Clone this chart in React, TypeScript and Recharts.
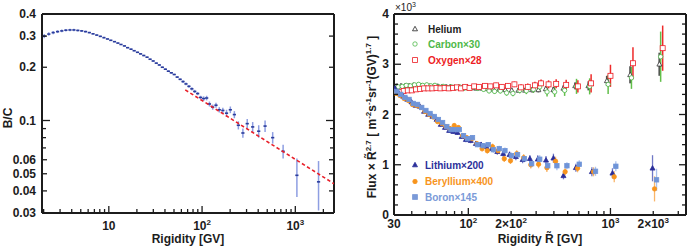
import React from 'react';
import { ScatterChart, Scatter, XAxis, YAxis, ErrorBar } from 'recharts';

// ---- left panel: B/C ratio vs rigidity
const bcRigidity = [
  2.03, 2.27, 2.53, 2.82, 3.13, 3.46, 3.83, 4.22, 4.65, 5.12,
  5.63, 6.18, 6.77, 7.42, 8.11, 8.86, 9.67, 10.5, 11.5, 12.5,
  13.5, 14.7, 15.9, 17.3, 18.7, 20.3, 21.9, 23.7, 25.7, 27.7,
  29.9, 32.3, 34.8, 37.5, 40.4, 43.5, 46.8, 50.3, 54.1, 58.2,
  62.5, 67.2, 72.3, 77.7, 83.4, 89.7, 96.4, 104, 112, 120,
  130, 141, 153, 167, 183, 201, 222, 245, 274, 305,
  349, 405, 474, 572, 740, 1040, 1775,
];
const bcRatio = [
  0.300, 0.308, 0.314, 0.318, 0.321, 0.324, 0.325, 0.325, 0.323, 0.321,
  0.318, 0.314, 0.309, 0.304, 0.299, 0.294, 0.289, 0.284, 0.279, 0.274,
  0.269, 0.264, 0.258, 0.253, 0.248, 0.243, 0.238, 0.233, 0.228, 0.222,
  0.217, 0.211, 0.206, 0.200, 0.195, 0.190, 0.186, 0.182, 0.176, 0.171,
  0.166, 0.161, 0.156, 0.151, 0.146, 0.142, 0.135, 0.133, 0.134, 0.124,
  0.119, 0.122, 0.115, 0.114, 0.110, 0.115, 0.108, 0.094, 0.085, 0.096,
  0.092, 0.087, 0.093, 0.080, 0.067, 0.049, 0.045,
];
const bcError = [
  0.008, 0.007, 0.007, 0.006, 0.006, 0.005, 0.005, 0.005, 0.004, 0.004,
  0.004, 0.003, 0.003, 0.003, 0.003, 0.003, 0.002, 0.002, 0.002, 0.002,
  0.002, 0.002, 0.002, 0.002, 0.002, 0.002, 0.002, 0.002, 0.002, 0.002,
  0.002, 0.002, 0.002, 0.002, 0.002, 0.002, 0.002, 0.002, 0.002, 0.002,
  0.003, 0.003, 0.003, 0.003, 0.003, 0.003, 0.003, 0.004, 0.004, 0.004,
  0.004, 0.004, 0.004, 0.004, 0.005, 0.005, 0.005, 0.005, 0.005, 0.006,
  0.006, 0.007, 0.007, 0.006, 0.006, 0.012, 0.014,
];
// power-law fit, straight on log-log axes
const fitRigidity = [66, 2600];
const fitRatio = [0.149, 0.0439];

const bcTicksX = [2, 3, 4, 5, 6, 7, 8, 9, 10, 20, 30, 40, 50, 60, 70, 80, 90, 100, 200, 300, 400, 500, 600, 700, 800, 900, 1000, 2000];
const bcTicksY = [0.03, 0.04, 0.05, 0.06, 0.07, 0.08, 0.09, 0.1, 0.2, 0.3, 0.4];
const bcLabelsY = [0.03, 0.04, 0.05, 0.06, 0.1, 0.2, 0.3, 0.4];

// ---- right panel: flux x R^2.7 (units of 10^3)
const heR = [31.5, 33.6, 35.9, 38.3, 41.0, 43.8, 46.8, 50.0, 53.4, 57.1, 61.0, 65.2, 69.7, 74.5, 79.6, 85.1, 91.0, 97.2, 105, 114, 125, 137, 150, 165, 182, 202, 225, 251, 281, 311, 351, 397, 467, 565, 700, 944, 1377, 2210];
const heFlux = [2.56, 2.57, 2.57, 2.57, 2.58, 2.57, 2.57, 2.56, 2.56, 2.56, 2.56, 2.55, 2.55, 2.55, 2.54, 2.54, 2.54, 2.53, 2.53, 2.52, 2.52, 2.51, 2.50, 2.50, 2.49, 2.48, 2.48, 2.48, 2.49, 2.49, 2.51, 2.49, 2.52, 2.57, 2.57, 2.67, 2.79, 3.00];
const heErr = [0.03, 0.03, 0.03, 0.03, 0.03, 0.03, 0.03, 0.03, 0.03, 0.03, 0.03, 0.03, 0.03, 0.03, 0.03, 0.03, 0.03, 0.03, 0.03, 0.03, 0.035, 0.035, 0.035, 0.04, 0.04, 0.04, 0.045, 0.045, 0.05, 0.05, 0.055, 0.06, 0.06, 0.07, 0.09, 0.1, 0.17, 0.23];

const cR = [32.1, 34.3, 36.6, 39.1, 41.8, 44.7, 47.7, 51.0, 54.5, 58.2, 62.2, 66.5, 71.1, 76.0, 81.2, 86.8, 92.8, 99.1, 107, 116, 128, 140, 153, 168, 186, 206, 230, 256, 287, 318, 358, 405, 476, 577, 714, 963, 1405, 2255];
const cFlux = [2.55, 2.56, 2.58, 2.57, 2.59, 2.60, 2.58, 2.59, 2.57, 2.58, 2.55, 2.56, 2.54, 2.55, 2.53, 2.55, 2.52, 2.53, 2.54, 2.52, 2.50, 2.47, 2.46, 2.47, 2.43, 2.42, 2.48, 2.47, 2.50, 2.55, 2.45, 2.45, 2.48, 2.56, 2.56, 2.60, 2.73, 3.15];
const cErr = [0.04, 0.04, 0.04, 0.04, 0.04, 0.04, 0.04, 0.04, 0.04, 0.04, 0.04, 0.04, 0.04, 0.04, 0.04, 0.04, 0.04, 0.04, 0.04, 0.04, 0.045, 0.045, 0.05, 0.05, 0.055, 0.055, 0.06, 0.065, 0.07, 0.08, 0.09, 0.1, 0.11, 0.15, 0.16, 0.19, 0.22, 0.5];

const oR = [32.9, 35.1, 37.5, 40.0, 42.8, 45.8, 48.9, 52.3, 55.8, 59.7, 63.7, 68.1, 72.8, 77.9, 83.2, 88.9, 95.1, 102, 110, 119, 131, 143, 157, 172, 190, 211, 235, 262, 294, 325, 367, 415, 488, 590, 731, 1000, 1440, 2330];
const oFlux = [2.45, 2.47, 2.48, 2.48, 2.50, 2.51, 2.52, 2.52, 2.52, 2.53, 2.52, 2.53, 2.52, 2.53, 2.54, 2.52, 2.55, 2.53, 2.56, 2.55, 2.57, 2.56, 2.58, 2.55, 2.57, 2.60, 2.54, 2.55, 2.58, 2.62, 2.60, 2.61, 2.59, 2.56, 2.62, 2.77, 3.02, 3.32];
const oErr = [0.035, 0.035, 0.035, 0.035, 0.035, 0.035, 0.035, 0.035, 0.035, 0.035, 0.035, 0.035, 0.035, 0.035, 0.035, 0.035, 0.04, 0.04, 0.04, 0.04, 0.045, 0.045, 0.05, 0.05, 0.05, 0.055, 0.06, 0.065, 0.07, 0.075, 0.08, 0.09, 0.1, 0.12, 0.18, 0.22, 0.32, 0.45];

const liR = [30.5, 32.5, 34.8, 37.2, 39.8, 42.6, 45.6, 48.8, 52.2, 55.9, 59.8, 64.0, 68.5, 73.3, 78.4, 83.9, 89.8, 96.1, 104, 113, 123, 134, 146, 160, 176, 195, 216, 241, 271, 308, 352, 397, 467, 571, 740, 1033, 1977];
const liFlux = [2.52, 2.42, 2.36, 2.30, 2.25, 2.18, 2.16, 2.06, 2.00, 1.96, 1.90, 1.80, 1.74, 1.68, 1.66, 1.64, 1.56, 1.50, 1.48, 1.42, 1.40, 1.36, 1.32, 1.26, 1.22, 1.20, 1.16, 1.10, 1.12, 1.11, 1.09, 1.13, 0.78, 0.94, 0.86, 0.83, 0.93];
const liErr = [0.045, 0.045, 0.045, 0.045, 0.045, 0.045, 0.045, 0.045, 0.045, 0.045, 0.045, 0.045, 0.045, 0.045, 0.045, 0.045, 0.05, 0.05, 0.05, 0.05, 0.055, 0.055, 0.06, 0.06, 0.065, 0.065, 0.07, 0.07, 0.075, 0.08, 0.085, 0.09, 0.07, 0.08, 0.09, 0.1, 0.26];

const beR = [31.0, 33.0, 35.3, 37.8, 40.4, 43.2, 46.3, 49.5, 53.0, 56.7, 60.7, 65.0, 69.5, 74.4, 79.6, 85.2, 91.1, 97.5, 106, 115, 125, 136, 148, 162, 179, 198, 219, 245, 275, 312, 357, 411, 480, 587, 760, 1063, 2042];
const beFlux = [2.42, 2.38, 2.32, 2.28, 2.20, 2.18, 2.14, 2.06, 2.00, 1.95, 1.86, 1.82, 1.76, 1.72, 1.78, 1.74, 1.58, 1.54, 1.52, 1.42, 1.32, 1.28, 1.36, 1.28, 1.12, 1.08, 1.22, 1.14, 1.00, 1.01, 0.94, 1.07, 0.86, 0.93, 0.86, 0.76, 0.52];
const beErr = [0.045, 0.045, 0.045, 0.045, 0.045, 0.045, 0.045, 0.045, 0.045, 0.045, 0.045, 0.045, 0.045, 0.045, 0.045, 0.045, 0.05, 0.05, 0.05, 0.05, 0.055, 0.055, 0.06, 0.06, 0.065, 0.065, 0.07, 0.07, 0.075, 0.08, 0.085, 0.09, 0.07, 0.08, 0.09, 0.11, 0.25];

const bR = [31.4, 33.5, 35.8, 38.3, 41.0, 43.9, 47.0, 50.3, 53.8, 57.6, 61.6, 65.9, 70.6, 75.5, 80.8, 86.4, 92.5, 99.0, 107, 116, 127, 138, 150, 165, 181, 201, 222, 248, 279, 318, 362, 420, 494, 603, 785, 1091, 2110];
const bFlux = [2.46, 2.40, 2.34, 2.30, 2.22, 2.20, 2.14, 2.08, 2.02, 1.96, 1.90, 1.84, 1.76, 1.70, 1.70, 1.70, 1.58, 1.52, 1.54, 1.40, 1.38, 1.40, 1.30, 1.32, 1.28, 1.18, 1.20, 1.12, 1.02, 1.11, 0.98, 0.98, 0.98, 1.01, 0.87, 0.97, 0.70];
const bErr = [0.045, 0.045, 0.045, 0.045, 0.045, 0.045, 0.045, 0.045, 0.045, 0.045, 0.045, 0.045, 0.045, 0.045, 0.045, 0.045, 0.05, 0.05, 0.05, 0.05, 0.055, 0.055, 0.06, 0.06, 0.065, 0.065, 0.07, 0.07, 0.075, 0.08, 0.085, 0.09, 0.07, 0.08, 0.09, 0.1, 0.22];

const fluxTicksX = [30, 40, 50, 60, 70, 80, 90, 100, 200, 300, 400, 500, 600, 700, 800, 900, 1000, 2000, 3000];
const fluxTicksY = [0, 0.2, 0.4, 0.6, 0.8, 1, 1.2, 1.4, 1.6, 1.8, 2, 2.2, 2.4, 2.6, 2.8, 3, 3.2, 3.4, 3.6, 3.8, 4];

const INK = '#1c1c1c';
const FONT = '"Liberation Sans", Arial, Helvetica, sans-serif';

const zip = (xs: number[], ys: number[], es: number[]) => xs.map((x, i) => ({ x, y: ys[i], e: es[i] }));

const bcData = zip(bcRigidity, bcRatio, bcError);
const fitData = fitRigidity.map((x, i) => ({ x, y: fitRatio[i] }));

type Side = 'bottom' | 'top' | 'left' | 'right';

function makeTick(side: Side, lenOf: (v: number) => number, label?: (v: number, x: number, y: number) => React.ReactNode) {
  return (p: any) => {
    const v = p.payload.value;
    const L = lenOf(v);
    const { x, y } = p;
    let x2 = x;
    let y2 = y;
    if (side === 'bottom') y2 = y - L;
    if (side === 'top') y2 = y + L;
    if (side === 'left') x2 = x + L;
    if (side === 'right') x2 = x - L;
    return (
      <g>
        <line x1={x} y1={y} x2={x2} y2={y2} stroke={INK} strokeWidth={1.3} />
        {label ? label(v, x, y) : null}
      </g>
    );
  };
}

function PowerLabel({ x, y, pre, exp }: { x: number; y: number; pre: string; exp: string }) {
  return (
    <text x={x} y={y} textAnchor="middle" fontSize={12} fontWeight="bold" fill={INK} fontFamily={FONT}>
      {pre}
      <tspan dy={-5} fontSize={8}>{exp}</tspan>
    </text>
  );
}

const axisLine = { stroke: INK, strokeWidth: 2 };

// left panel ticks
const bcMajorX = [10, 100, 1000];
const bcXLen = (v: number) => (bcMajorX.includes(v) ? 7 : 4);
const bcYLen = (v: number) => (v === 0.1 ? 8 : bcLabelsY.includes(v) ? 5 : 4);
const bcXLabel = (v: number, x: number, y: number) => {
  if (v === 10) return <text x={x} y={y + 17} textAnchor="middle" fontSize={12} fontWeight="bold" fill={INK} fontFamily={FONT}>10</text>;
  if (v === 100) return <PowerLabel x={x} y={y + 17} pre="10" exp="2" />;
  if (v === 1000) return <PowerLabel x={x} y={y + 17} pre="10" exp="3" />;
  return null;
};
const bcYLabel = (v: number, x: number, y: number) =>
  bcLabelsY.includes(v) ? (
    <text x={x - 6} y={y + 4} textAnchor="end" fontSize={12} fontWeight="bold" fill={INK} fontFamily={FONT}>{String(v)}</text>
  ) : null;

// right panel ticks
const fluxMajorX = [100, 1000];
const fluxXLen = (v: number) => (fluxMajorX.includes(v) ? 7 : 4);
const fluxYLen = (v: number) => (Number.isInteger(v) ? 7 : 4);
const fluxXLabel = (v: number, x: number, y: number) => {
  const yy = y + 13;
  if (v === 30) return <text x={x} y={yy} textAnchor="middle" fontSize={12} fontWeight="bold" fill={INK} fontFamily={FONT}>30</text>;
  if (v === 100) return <PowerLabel x={x} y={yy} pre="10" exp="2" />;
  if (v === 200) return <PowerLabel x={x} y={yy} pre="2×10" exp="2" />;
  if (v === 1000) return <PowerLabel x={x} y={yy} pre="10" exp="3" />;
  if (v === 2000) return <PowerLabel x={x} y={yy} pre="2×10" exp="3" />;
  return null;
};
const fluxYLabel = (v: number, x: number, y: number) =>
  Number.isInteger(v) ? (
    <text x={x - 5} y={y + 4} textAnchor="end" fontSize={12} fontWeight="bold" fill={INK} fontFamily={FONT}>{String(v)}</text>
  ) : null;

const bcDash = (p: any) => <rect x={p.cx - 1.6} y={p.cy - 0.8} width={3.2} height={1.6} fill="#2a3c9c" />;
const noMark = () => <g />;

const triangle = (color: string, filled: boolean) => (p: any) => (
  <polygon
    points={`${p.cx},${p.cy - 2.7} ${p.cx - 2.5},${p.cy + 1.8} ${p.cx + 2.5},${p.cy + 1.8}`}
    fill={filled ? color : '#fff'}
    stroke={color}
    strokeWidth={0.8}
  />
);
const circle = (color: string, filled: boolean) => (p: any) => (
  <circle cx={p.cx} cy={p.cy} r={2.2} fill={filled ? color : '#fff'} stroke={color} strokeWidth={0.8} />
);
const square = (color: string, filled: boolean, s: number) => (p: any) => (
  <rect x={p.cx - s / 2} y={p.cy - s / 2} width={s} height={s} fill={filled ? color : '#fff'} stroke={color} strokeWidth={0.8} />
);

const series = [
  { name: 'He', data: zip(heR, heFlux, heErr), bar: '#505050', bw: 2, shape: triangle('#333333', false) },
  { name: 'C', data: zip(cR, cFlux, cErr), bar: '#62bf4a', bw: 1.5, shape: circle('#4db848', false) },
  { name: 'O', data: zip(oR, oFlux, oErr), bar: '#ee2a2a', bw: 1.5, shape: square('#ed1c24', false, 5) },
  { name: 'Li', data: zip(liR, liFlux, liErr), bar: '#7078c6', bw: 1.3, shape: triangle('#2b2f9a', true) },
  { name: 'Be', data: zip(beR, beFlux, beErr), bar: '#f9b56a', bw: 1.3, shape: circle('#f7941d', true) },
  { name: 'B', data: zip(bR, bFlux, bErr), bar: '#abc2ee', bw: 1.3, shape: square('#6f94d8', true, 4.4) },
];

function BCPanel() {
  const dom: [number, number] = [1.92, 2600];
  return (
    <ScatterChart width={344} height={246} margin={{ top: 13, right: 9, bottom: 0, left: 0 }}>
      <XAxis xAxisId="b" dataKey="x" type="number" scale="log" domain={dom} allowDataOverflow ticks={bcTicksX} interval={0}
        tickSize={0} tickMargin={0} tickLine={false} axisLine={axisLine} height={33} tick={makeTick('bottom', bcXLen, bcXLabel)} />
      <XAxis xAxisId="t" orientation="top" type="number" scale="log" domain={dom} allowDataOverflow ticks={bcTicksX} interval={0}
        tickSize={0} tickMargin={0} tickLine={false} axisLine={axisLine} height={1} tick={makeTick('top', bcXLen)} />
      <YAxis yAxisId="l" dataKey="y" type="number" scale="log" domain={[0.03, 0.4]} allowDataOverflow ticks={bcTicksY} interval={0}
        tickSize={0} tickMargin={0} tickLine={false} axisLine={axisLine} width={42} tick={makeTick('left', bcYLen, bcYLabel)} />
      <YAxis yAxisId="r" orientation="right" type="number" scale="log" domain={[0.03, 0.4]} allowDataOverflow ticks={bcTicksY} interval={0}
        tickSize={0} tickMargin={0} tickLine={false} axisLine={axisLine} width={1} tick={makeTick('right', bcYLen)} />
      <Scatter xAxisId="b" yAxisId="l" data={bcData} shape={bcDash} isAnimationActive={false}>
        <ErrorBar dataKey="e" direction="y" width={0} stroke="#8e9ee2" strokeWidth={1.5} isAnimationActive={false} />
      </Scatter>
      <Scatter xAxisId="b" yAxisId="l" data={fitData} shape={noMark} isAnimationActive={false}
        line={{ stroke: '#e8202a', strokeWidth: 1.6, strokeDasharray: '3.5 2.5' }} />
    </ScatterChart>
  );
}

function FluxPanel() {
  const dom: [number, number] = [30, 3400];
  return (
    <ScatterChart width={344} height={246} margin={{ top: 13, right: 1, bottom: 0, left: 0 }}>
      <XAxis xAxisId="b" dataKey="x" type="number" scale="log" domain={dom} allowDataOverflow ticks={fluxTicksX} interval={0}
        tickSize={0} tickMargin={0} tickLine={false} axisLine={axisLine} height={31} tick={makeTick('bottom', fluxXLen, fluxXLabel)} />
      <XAxis xAxisId="t" orientation="top" type="number" scale="log" domain={dom} allowDataOverflow ticks={fluxTicksX} interval={0}
        tickSize={0} tickMargin={0} tickLine={false} axisLine={axisLine} height={1} tick={makeTick('top', fluxXLen)} />
      <YAxis yAxisId="l" dataKey="y" type="number" domain={[0, 4]} allowDataOverflow ticks={fluxTicksY} interval={0}
        tickSize={0} tickMargin={0} tickLine={false} axisLine={axisLine} width={50} tick={makeTick('left', fluxYLen, fluxYLabel)} />
      <YAxis yAxisId="r" orientation="right" type="number" domain={[0, 4]} allowDataOverflow ticks={fluxTicksY} interval={0}
        tickSize={0} tickMargin={0} tickLine={false} axisLine={axisLine} width={1} tick={makeTick('right', fluxYLen)} />
      {series.map((s) => (
        <Scatter key={s.name} xAxisId="b" yAxisId="l" data={s.data} shape={s.shape} isAnimationActive={false}>
          <ErrorBar dataKey="e" direction="y" width={0} stroke={s.bar} strokeWidth={s.bw} isAnimationActive={false} />
        </Scatter>
      ))}
    </ScatterChart>
  );
}

const legendUpper = [
  { text: 'Helium', color: '#222222', mark: 'tri', fill: false, y: 29 },
  { text: 'Carbon×30', color: '#4db848', mark: 'circ', fill: false, y: 44 },
  { text: 'Oxygen×28', color: '#ed1c24', mark: 'sq', fill: false, y: 60 },
];
const legendLower = [
  { text: 'Lithium×200', color: '#2b2f9a', mark: 'tri', fill: true, y: 165 },
  { text: 'Beryllium×400', color: '#f7941d', mark: 'circ', fill: true, y: 181.5 },
  { text: 'Boron×145', color: '#7a9ad8', mark: 'sq', fill: true, y: 197 },
];

function LegendMark({ x, y, mark, color, fill }: { x: number; y: number; mark: string; color: string; fill: boolean }) {
  const f = fill ? color : '#fff';
  if (mark === 'tri') return <polygon points={`${x},${y - 2.7} ${x - 2.5},${y + 1.8} ${x + 2.5},${y + 1.8}`} fill={f} stroke={color} strokeWidth={0.8} />;
  if (mark === 'circ') return <circle cx={x} cy={y} r={2.2} fill={f} stroke={color} strokeWidth={0.8} />;
  return <rect x={x - 2.4} y={y - 2.4} width={4.8} height={4.8} fill={f} stroke={color} strokeWidth={0.8} />;
}

function Overlay() {
  const t = { fontFamily: FONT, fontWeight: 'bold' as const, fill: INK };
  return (
    <svg width={688} height={246} style={{ position: 'absolute', left: 0, top: 0, pointerEvents: 'none' }}>
      <text transform="translate(12,118) rotate(-90)" textAnchor="middle" fontSize={12} {...t}>B/C</text>
      <text x={188} y={243} textAnchor="middle" fontSize={12} {...t}>Rigidity [GV]</text>
      <text x={540} y={243} textAnchor="middle" fontSize={12} {...t}>Rigidity R̃ [GV]</text>
      <text transform="translate(376,117) rotate(-90)" textAnchor="middle" fontSize={12} {...t}>
        Flux × R̃<tspan dy={-5} fontSize={8}>2.7</tspan>
        <tspan dy={5}> [ m</tspan><tspan dy={-5} fontSize={8}>-2</tspan>
        <tspan dy={5}>s</tspan><tspan dy={-5} fontSize={8}>-1</tspan>
        <tspan dy={5}>sr</tspan><tspan dy={-5} fontSize={8}>-1</tspan>
        <tspan dy={5}>(GV)</tspan><tspan dy={-5} fontSize={8}>1.7</tspan>
        <tspan dy={5}> ]</tspan>
      </text>
      <text x={395} y={11} fontSize={10} fontFamily={FONT} fill={INK}>
        ×10<tspan dy={-4} fontSize={7}>3</tspan>
      </text>
      {legendUpper.map((l) => (
        <g key={l.text}>
          <LegendMark x={415} y={l.y} mark={l.mark} color={l.color} fill={l.fill} />
          <text x={428} y={l.y + 3.5} fontSize={10} fontFamily={FONT} fontWeight="bold" fill={l.color}>{l.text}</text>
        </g>
      ))}
      {legendLower.map((l) => (
        <g key={l.text}>
          <LegendMark x={415} y={l.y} mark={l.mark} color={l.color} fill={l.fill} />
          <text x={425} y={l.y + 3.5} fontSize={10} fontFamily={FONT} fontWeight="bold" fill={l.color}>{l.text}</text>
        </g>
      ))}
    </svg>
  );
}

export default function App() {
  return (
    <div style={{ position: 'absolute', left: 0, top: 0, width: 688, height: 246, background: '#fff', fontFamily: FONT }}>
      <div style={{ position: 'absolute', left: 0, top: 0 }}>
        <BCPanel />
      </div>
      <div style={{ position: 'absolute', left: 344, top: 0 }}>
        <FluxPanel />
      </div>
      <Overlay />
    </div>
  );
}
